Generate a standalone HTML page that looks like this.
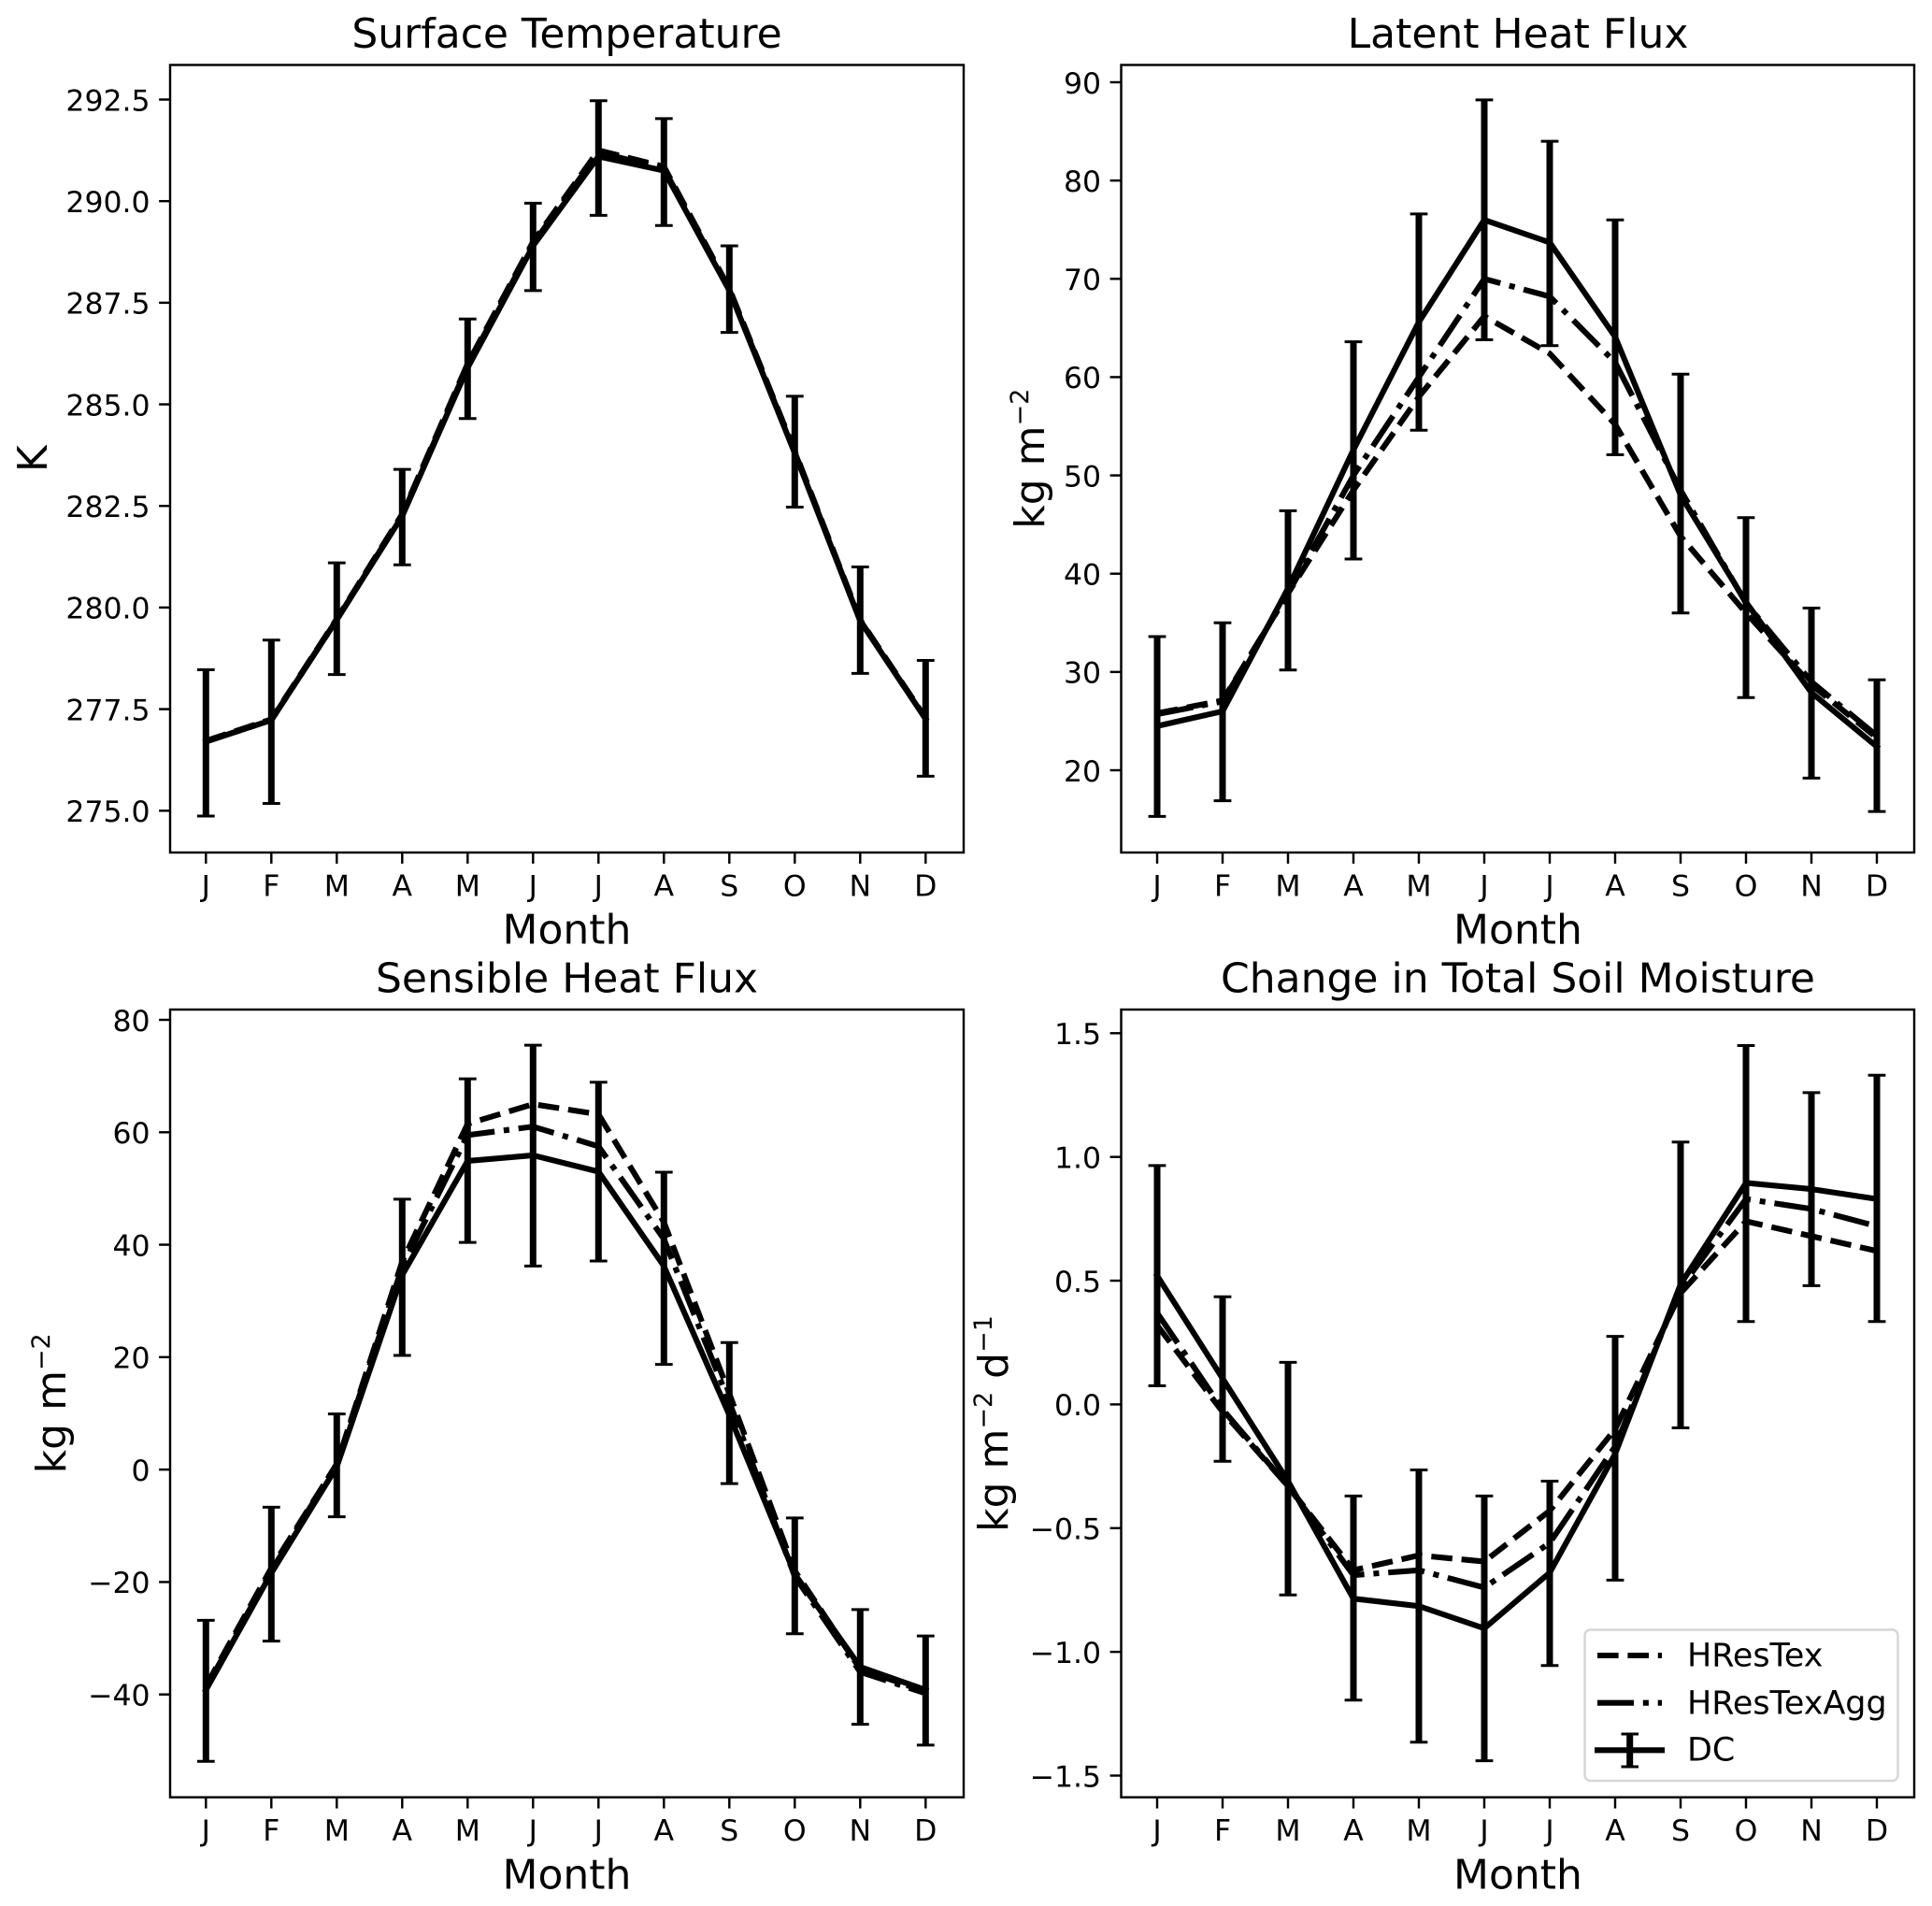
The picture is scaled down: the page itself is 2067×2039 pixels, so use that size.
<!DOCTYPE html>
<html lang="en">
<head>
<meta charset="utf-8">
<title>Monthly climatology panels</title>
<style>
html,body{margin:0;padding:0;background:#fff;}
svg{display:block;}
text{font-family:"DejaVu Sans","Liberation Sans",sans-serif;fill:#000;}
.t{font-size:44px;text-anchor:middle;}
.lg{font-size:34.9px;}
.sp{fill:#fff;stroke:#000;stroke-width:2.44;}
</style>
</head>
<body>
<svg id="fig" xmlns="http://www.w3.org/2000/svg" width="2067" height="2039" viewBox="0 0 2067 2039">
  <rect x="0" y="0" width="2067" height="2039" fill="#fff"/>

  <g id="surface">
    <rect class="sp" x="182" y="69.5" width="849" height="842.5"/>
    <text class="t" x="606.5" y="51.2">Surface Temperature</text>
    <text class="t" x="606.5" y="1009.5">Month</text>
    <text class="t" transform="translate(50,490.7) rotate(-90)" x="0" y="0">K</text>
  </g>

  <g id="latent">
    <rect class="sp" x="1199.5" y="69.5" width="848.5" height="842.5"/>
    <text class="t" x="1624" y="51.2">Latent Heat Flux</text>
    <text class="t" x="1624" y="1009.5">Month</text>
    <text class="t" transform="translate(1117,490.7) rotate(-90)" x="0" y="0">kg m<tspan dy="-17" font-size="27">−2</tspan></text>
  </g>

  <g id="sensible">
    <rect class="sp" x="182" y="1080" width="849" height="842.7"/>
    <text class="t" x="606.5" y="1061.7">Sensible Heat Flux</text>
    <text class="t" x="606.5" y="2020.5">Month</text>
    <text class="t" transform="translate(70,1501.3) rotate(-90)" x="0" y="0">kg m<tspan dy="-17" font-size="27">−2</tspan></text>
  </g>

  <g id="soil">
    <rect class="sp" x="1199.5" y="1080" width="848.5" height="842.7"/>
    <text class="t" x="1624" y="1061.7">Change in Total Soil Moisture</text>
    <text class="t" x="1624" y="2020.5">Month</text>
    <text class="t" transform="translate(1078,1523) rotate(-90)" x="0" y="0">kg m<tspan dy="-17" font-size="27">−2</tspan><tspan dy="17"> d</tspan><tspan dy="-17" font-size="27">−1</tspan></text>
  </g>

  <g id="legend">
    <rect x="1695.5" y="1743.5" width="335" height="161.5" rx="6" ry="6" fill="#fff" fill-opacity="0.8" stroke="#d6d6d6" stroke-width="2.44"/>
    <g>
      <line x1="1709" y1="1771" x2="1778" y2="1771" stroke="#000" stroke-width="6.1" stroke-dasharray="22.6 9.8"/>
      <text class="lg" x="1805" y="1782.7">HResTex</text>
    </g>
    <g>
      <line x1="1709" y1="1821.7" x2="1778" y2="1821.7" stroke="#000" stroke-width="6.1" stroke-dasharray="39 9.8 6.1 9.8"/>
      <text class="lg" x="1805" y="1833.3">HResTexAgg</text>
    </g>
    <g>
      <line x1="1706" y1="1872.3" x2="1781" y2="1872.3" stroke="#000" stroke-width="6.1"/>
      <line x1="1743.7" y1="1855" x2="1743.7" y2="1890" stroke="#000" stroke-width="7"/>
      <line x1="1734.5" y1="1855" x2="1753" y2="1855" stroke="#000" stroke-width="3"/>
      <line x1="1734.5" y1="1890" x2="1753" y2="1890" stroke="#000" stroke-width="3"/>
      <text class="lg" x="1805" y="1883.3">DC</text>
    </g>
  </g>
</svg>

<script>
// Shared category labels
const months = ['J','F','M','A','M','J','J','A','S','O','N','D'];

// Surface temperature (K)
const surfaceTicks = [275, 277.5, 280, 282.5, 285, 287.5, 290, 292.5];
const surfaceTickLabels = ['275.0','277.5','280.0','282.5','285.0','287.5','290.0','292.5'];
const surfaceHResTex = [276.72, 277.25, 279.72, 282.3, 286.0, 289.0, 291.25, 290.85, 287.85, 283.85, 279.7, 277.28];
const surfaceHResTexAgg = [276.7, 277.23, 279.7, 282.27, 285.95, 288.95, 291.2, 290.8, 287.82, 283.82, 279.68, 277.26];
const surfaceDC = [276.7, 277.23, 279.7, 282.25, 285.9, 288.9, 291.1, 290.75, 287.8, 283.8, 279.67, 277.26];
const surfaceErrTop = [278.47, 279.2, 281.1, 283.4, 287.1, 289.95, 292.47, 292.03, 288.9, 285.2, 281.0, 278.7];
const surfaceErrBottom = [274.87, 275.18, 278.35, 281.05, 284.65, 287.8, 289.65, 289.4, 286.77, 282.47, 278.38, 275.85];

// Latent heat flux
const latentTicks = [20, 30, 40, 50, 60, 70, 80, 90];
const latentTickLabels = ['20','30','40','50','60','70','80','90'];
const latentHResTex = [25.8, 27.1, 38, 48.5, 58, 66.2, 62.4, 55.2, 43.8, 36, 28.7, 23.3];
const latentHResTexAgg = [25.7, 27, 38, 50, 60, 70, 68.2, 61.5, 48.5, 37, 29, 23.5];
const latentDC = [24.5, 26, 38.5, 52.6, 65.6, 76, 73.7, 64.1, 48, 37.1, 27.9, 22.4];
const latentErrTop = [33.6, 35, 46.4, 63.6, 76.6, 88.2, 84, 76, 60.3, 45.7, 36.5, 29.2];
const latentErrBottom = [15.3, 16.9, 30.2, 41.5, 54.6, 63.8, 63.2, 52.1, 36, 27.4, 19.2, 15.8];

// Sensible heat flux
const sensibleTicks = [-40, -20, 0, 20, 40, 60, 80];
const sensibleTickLabels = ['−40','−20','0','20','40','60','80'];
const sensibleHResTex = [-38.5, -17.5, 1, 37, 61.5, 65, 63.2, 44, 13.5, -18, -35.5, -39.5];
const sensibleHResTexAgg = [-38.8, -18, 1, 36, 59.5, 61, 57.5, 41, 12, -19, -36, -39.8];
const sensibleDC = [-39.2, -18.4, 0.5, 34.6, 54.9, 55.9, 53, 36.2, 9.7, -18.6, -35.1, -39.2];
const sensibleErrTop = [-26.8, -6.7, 9.9, 48.1, 69.5, 75.5, 68.9, 52.9, 22.6, -8.6, -24.9, -29.6];
const sensibleErrBottom = [-51.9, -30.5, -8.4, 20.3, 40.4, 36.2, 37.1, 18.7, -2.5, -29.2, -45.3, -49];

// Change in total soil moisture
const soilTicks = [-1.5, -1, -0.5, 0, 0.5, 1, 1.5];
const soilTickLabels = ['−1.5','−1.0','−0.5','0.0','0.5','1.0','1.5'];
const soilHResTex = [0.32, -0.03, -0.33, -0.67, -0.61, -0.635, -0.43, -0.1, 0.45, 0.74, 0.68, 0.62];
const soilHResTexAgg = [0.37, -0.02, -0.33, -0.69, -0.67, -0.74, -0.56, -0.17, 0.47, 0.83, 0.79, 0.72];
const soilDC = [0.52, 0.105, -0.31, -0.785, -0.815, -0.905, -0.68, -0.2, 0.485, 0.895, 0.87, 0.83];
const soilErrTop = [0.965, 0.435, 0.17, -0.37, -0.265, -0.37, -0.31, 0.275, 1.06, 1.45, 1.26, 1.33];
const soilErrBottom = [0.075, -0.23, -0.77, -1.195, -1.365, -1.44, -1.055, -0.71, -0.095, 0.335, 0.48, 0.335];

const SVG_NS = 'http://www.w3.org/2000/svg';

function makeLine(parent, name, x1, y1, x2, y2, width) {
  const node = document.createElementNS(SVG_NS, 'line');
  
  
  node.setAttribute('x1', x1);
  node.setAttribute('y1', y1);
  node.setAttribute('x2', x2);
  node.setAttribute('y2', y2);
  node.setAttribute('stroke', '#000');
  node.setAttribute('stroke-width', width);
  parent.appendChild(node);
}

function makeText(parent, name, x, y, anchor, content) {
  const node = document.createElementNS(SVG_NS, 'text');
  
  
  node.setAttribute('x', x);
  node.setAttribute('y', y);
  node.setAttribute('text-anchor', anchor);
  node.setAttribute('font-size', '31.5');
  node.textContent = content;
  parent.appendChild(node);
}

function makeSeries(parent, name, xs, ys, dash, cap) {
  const node = document.createElementNS(SVG_NS, 'polyline');
  
  
  node.setAttribute('points', ys.map(function (v, i) { return xs(i) + ',' + v; }).join(' '));
  node.setAttribute('fill', 'none');
  node.setAttribute('stroke', '#000');
  node.setAttribute('stroke-width', '6.1');
  node.setAttribute('stroke-linejoin', 'round');
  node.setAttribute('stroke-linecap', cap);
  if (dash) node.setAttribute('stroke-dasharray', dash);
  parent.appendChild(node);
}

function drawPanel(id, slug, frame, ticks, tickLabels, hres, agg, dc, top, bottom) {
  const panel = document.getElementById(id);
  const xs = function (i) { return frame.x0 + i * frame.step; };
  const lo = ticks[0];
  const hi = ticks[ticks.length - 1];
  const ys = function (v) { return frame.yLo + (v - lo) * (frame.yHi - frame.yLo) / (hi - lo); };

  months.forEach(function (m, i) {
    makeLine(panel, slug + '-x-tick', xs(i), frame.bottom, xs(i), frame.bottom + 11.9, 2.44);
    makeText(panel, slug + '-x-tick-label', xs(i), frame.bottom + 46.5, 'middle', m);
  });
  ticks.forEach(function (t, i) {
    makeLine(panel, slug + '-y-tick', frame.left - 11.9, ys(t), frame.left, ys(t), 2.44);
    makeText(panel, slug + '-y-tick-label', frame.left - 21.4, ys(t) + 11.8, 'end', tickLabels[i]);
  });

  makeSeries(panel, slug + '-hrestex-line', xs, hres.map(ys), '22.6 9.8', 'butt');
  makeSeries(panel, slug + '-hrestexagg-line', xs, agg.map(ys), '39 9.8 6.1 9.8', 'butt');

  months.forEach(function (m, i) {
    makeLine(panel, slug + '-dc-errorbar', xs(i), ys(top[i]), xs(i), ys(bottom[i]), 7);
    makeLine(panel, slug + '-dc-errorbar-cap-top', xs(i) - 9.4, ys(top[i]), xs(i) + 9.4, ys(top[i]), 3);
    makeLine(panel, slug + '-dc-errorbar-cap-bottom', xs(i) - 9.4, ys(bottom[i]), xs(i) + 9.4, ys(bottom[i]), 3);
  });
  makeSeries(panel, slug + '-dc-line', xs, dc.map(ys), null, 'square');
}

drawPanel('surface', 'surface-temperature',
  {left: 182, bottom: 912, x0: 220.3, step: 70, yLo: 867.3, yHi: 106.5},
  surfaceTicks, surfaceTickLabels, surfaceHResTex, surfaceHResTexAgg, surfaceDC, surfaceErrTop, surfaceErrBottom);
drawPanel('latent', 'latent-heat-flux',
  {left: 1199.5, bottom: 912, x0: 1238, step: 70, yLo: 824, yHi: 88},
  latentTicks, latentTickLabels, latentHResTex, latentHResTexAgg, latentDC, latentErrTop, latentErrBottom);
drawPanel('sensible', 'sensible-heat-flux',
  {left: 182, bottom: 1922.7, x0: 220.3, step: 70, yLo: 1812.7, yHi: 1091},
  sensibleTicks, sensibleTickLabels, sensibleHResTex, sensibleHResTexAgg, sensibleDC, sensibleErrTop, sensibleErrBottom);
drawPanel('soil', 'soil-moisture',
  {left: 1199.5, bottom: 1922.7, x0: 1238, step: 70, yLo: 1899.5, yHi: 1105.3},
  soilTicks, soilTickLabels, soilHResTex, soilHResTexAgg, soilDC, soilErrTop, soilErrBottom);
</script>
</body>
</html>
